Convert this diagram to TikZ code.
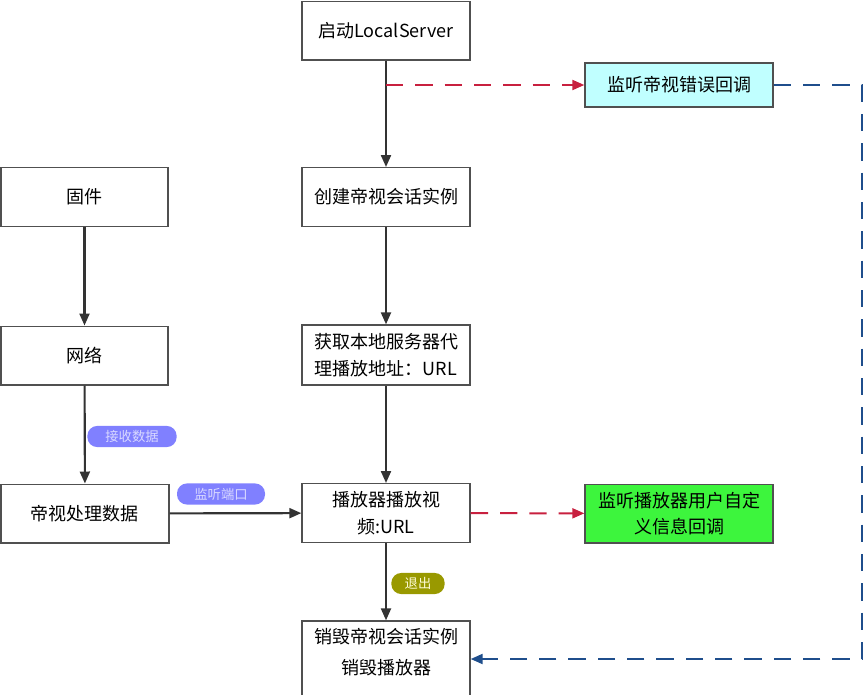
\documentclass[tikz,border=0pt]{standalone}
\usepackage{fontspec}
\setmainfont{Noto Sans CJK SC}
\usetikzlibrary{arrows.meta,positioning}
\definecolor{boxline}{HTML}{505050}
\definecolor{flowline}{HTML}{333333}
\definecolor{errfill}{HTML}{C0FFFF}
\definecolor{usrfill}{HTML}{3DF53D}
\definecolor{redline}{HTML}{C8203F}
\definecolor{blueline}{HTML}{1F4E8C}
\definecolor{tagblue}{HTML}{8080FF}
\definecolor{tagolive}{HTML}{999900}
\tikzset{
  box/.style={draw=boxline, line width=1pt, fill=white, align=center,
    minimum width=126pt, minimum height=44pt, inner sep=2pt,
    font=\fontsize{13.5pt}{20pt}\selectfont},
  flow/.style={draw=flowline, line width=1.6pt, -{Triangle[length=9pt,width=7.5pt]}},
  redflow/.style={draw=redline, line width=1.5pt, dash pattern=on 13pt off 9pt,
    -{Triangle[length=9pt,width=7.5pt]}},
  blueflow/.style={draw=blueline, line width=1.5pt, dash pattern=on 13pt off 9pt,
    -{Triangle[length=9pt,width=7.5pt]}},
  tag/.style={rounded corners=7.5pt, minimum height=15pt, inner xsep=8pt,
    text=white!85!blue, font=\fontsize{10pt}{12pt}\selectfont}
}
\begin{document}
\begin{tikzpicture}[x=0.75pt,y=-0.75pt]
  \useasboundingbox (0,0) rectangle (864,694);
  % middle column
  \node[box, minimum height=44pt] (start) at (386,30.5) {启动LocalServer};
  \node[box] (create) at (386,197) {创建帝视会话实例};
  \node[box, minimum height=45pt] (proxy) at (386,355) {获取本地服务器代\\理播放地址：URL};
  \node[box] (play) at (386,513) {播放器播放视\\频:URL};
  \node[box, minimum height=57pt] (destroy) at (386,659) {};
  \node[align=center, font=\fontsize{13.5pt}{23pt}\selectfont] (destroytext) at (386,652)
    {销毁帝视会话实例\\销毁播放器};
  % left column
  \node[box, minimum width=125pt] (firmware) at (84.5,197) {固件};
  \node[box, minimum width=125pt] (network) at (84.5,355.5) {网络};
  \node[box, minimum width=126pt] (process) at (85,513.5) {帝视处理数据};
  % callbacks
  \node[box, fill=errfill, minimum width=141pt, minimum height=33pt] (errcb) at (679,85) {监听帝视错误回调};
  \node[box, fill=usrfill, minimum width=141pt] (usercb) at (679,513.5) {监听播放器用户自定\\义信息回调};
  \coordinate (tap) at (start.south |- errcb.west);
  \coordinate (rim) at (862,0);

  \draw[flow] (start) -- (create);
  \draw[flow] (create) -- (proxy);
  \draw[flow] (proxy) -- (play);
  \draw[flow] (play) -- (destroy);
  \draw[flow] (firmware) -- (network);
  \draw[flow] (network) -- (process);
  \draw[flow] (process) -- (play);
  \draw[redflow] (tap) -- (errcb);
  \draw[redflow] (play) -- (usercb);
  \draw[blueflow] (errcb.east) -| (rim |- destroy.east) -- (destroy.east);

  \node[tag, fill=tagblue, minimum width=67pt] (recvtag) at (132,436.5) {接收数据};
  \node[tag, fill=tagblue, minimum width=66pt] (porttag) at (221,494) {监听端口};
  \node[tag, fill=tagolive, minimum width=40pt, text=white!85!yellow] (quittag) at (418,583.5) {退出};
\end{tikzpicture}
\end{document}
